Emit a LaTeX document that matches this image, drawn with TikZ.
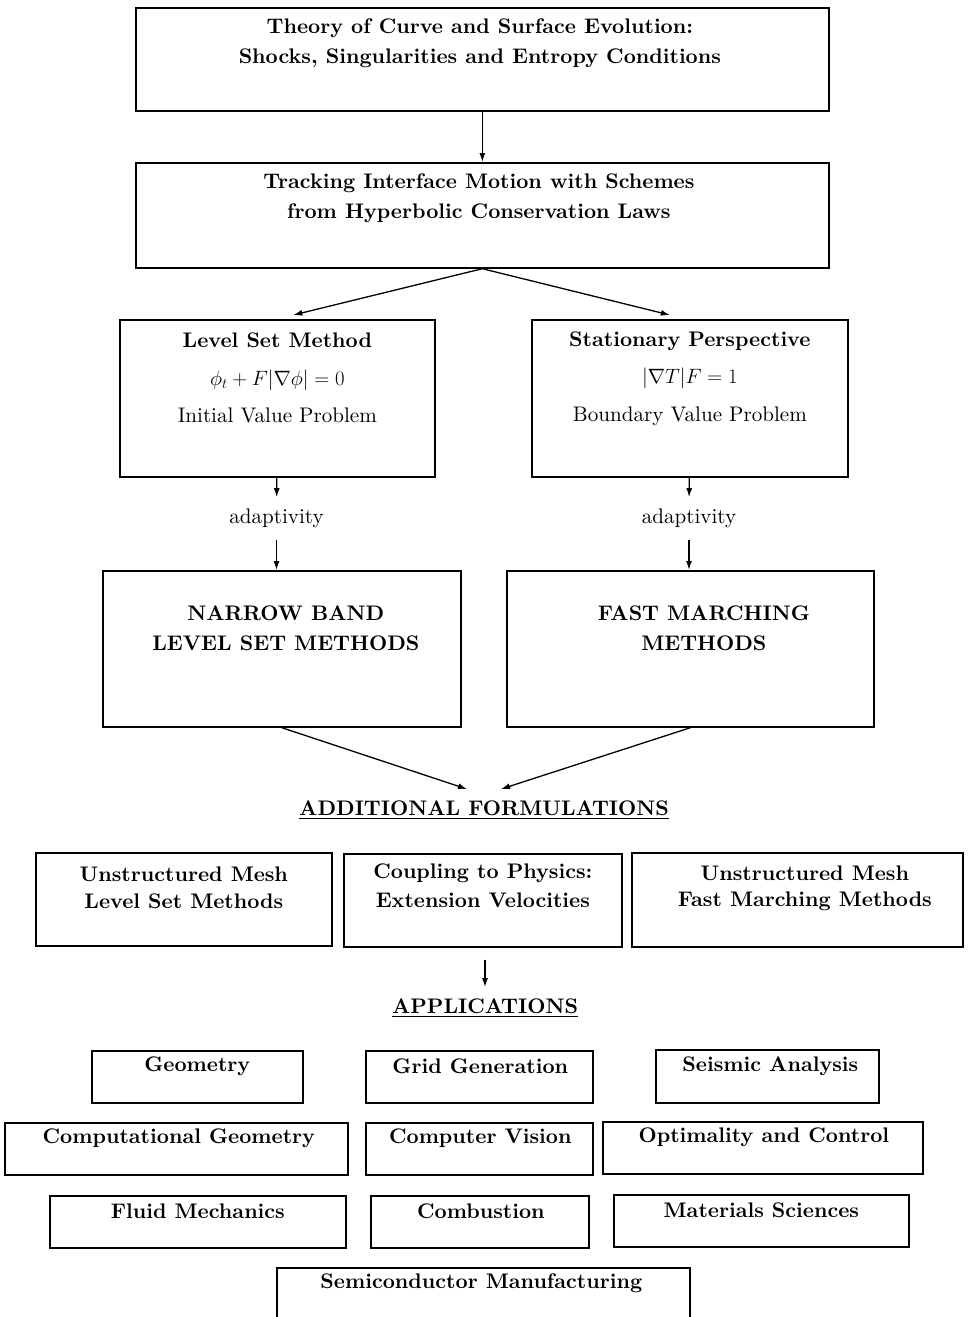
\documentclass[tikz,border=0pt]{standalone}
\usepackage{amsmath}
\usepackage{fontspec}
\setmainfont{lmroman10-regular.otf}[BoldFont=lmroman10-bold.otf]
\usetikzlibrary{positioning,arrows.meta}
\tikzset{
  panel/.style={draw, line width=1.7pt, inner sep=0pt, anchor=north west},
  boxtext/.style={font=\bfseries, align=center, inner sep=0pt},
  normaltext/.style={align=center, inner sep=0pt},
  gaptext/.style={inner xsep=0pt, inner ysep=11.5pt, anchor=base},
  flow/.style={line width=1.3pt, -{Latex[length=9pt,width=6pt]}},
}

\begin{document}
\fontsize{21.1}{30}\selectfont
\begin{tikzpicture}[x=1pt,y=-1pt]
\useasboundingbox (0,0) rectangle (967,1317);
\node[panel, minimum width=693pt, minimum height=103pt] (theory) at (135,7) {};
\node[boxtext, below=12pt of theory.north, xshift=-2.5pt] (theorytxt) {Theory of Curve and Surface Evolution:\\ Shocks, Singularities and Entropy Conditions};
\node[panel, minimum width=693pt, minimum height=105pt] (tracking) at (135,162) {};
\node[boxtext, below=12pt of tracking.north, xshift=-3.5pt] (trackingtxt) {Tracking Interface Motion with Schemes\\ from Hyperbolic Conservation Laws};
\node[panel, minimum width=315pt, minimum height=157pt] (lsm) at (119,319) {};
\node[normaltext, below=14pt of lsm.north] (lsmtxt) {\textbf{Level Set Method}\\[7.5pt] $\phi_t + F|\nabla\phi| = 0$\\[7.5pt] Initial Value Problem};
\node[panel, minimum width=316pt, minimum height=157pt] (stat) at (531,319) {};
\node[normaltext, below=12.5pt of stat.north] (stattxt) {\textbf{Stationary Perspective}\\[7.5pt] $|\nabla T|F = 1$\\[7.5pt] Boundary Value Problem};
\node[gaptext] (adaptL) at (276.5,523.5) {adaptivity};
\node[gaptext] (adaptR) at (689,523.5) {adaptivity};
\node[panel, minimum width=358pt, minimum height=156pt] (narrow) at (102,570) {};
\node[boxtext, below=36pt of narrow.north, xshift=4pt] (narrowtxt) {NARROW BAND\\ LEVEL SET METHODS};
\node[panel, minimum width=367pt, minimum height=156pt] (fast) at (506,570) {};
\node[boxtext, below=36pt of fast.north, xshift=13.5pt] (fasttxt) {FAST MARCHING\\ METHODS};
\node[boxtext, inner ysep=11pt, anchor=base] (addf) at (484,815) {\underline{ADDITIONAL FORMULATIONS}};
%formulations
\node[panel, minimum width=296pt, minimum height=93pt] (meshls) at (35,852) {};
\node[boxtext, below=15pt of meshls.north] (meshlstxt) {Unstructured Mesh\\[-3pt] Level Set Methods};
\node[panel, minimum width=278pt, minimum height=93pt] (coupling) at (343,853) {};
\node[boxtext, below=11pt of coupling.north] (couplingtxt) {Coupling to Physics:\\[-1pt] Extension Velocities};
\node[panel, minimum width=331pt, minimum height=94pt] (meshfm) at (631,852) {};
\node[boxtext, below=14pt of meshfm.north, xshift=7.5pt] (meshfmtxt) {Unstructured Mesh\\[-4pt] Fast Marching Methods};
\node[boxtext, inner ysep=11pt, anchor=base] (apps) at (485,1013) {\underline{APPLICATIONS}};
%applications
\node[panel, minimum width=211pt, minimum height=52pt] (geom) at (91,1050) {};
\node[boxtext, below=7pt of geom.north] (geomtxt) {Geometry};
\node[panel, minimum width=227pt, minimum height=52pt] (grid) at (365,1050) {};
\node[boxtext, below=9pt of grid.north, xshift=1pt] (gridtxt) {Grid Generation};
\node[panel, minimum width=223pt, minimum height=53pt] (seismic) at (655,1049) {};
\node[boxtext, below=7.5pt of seismic.north, xshift=3pt] (seismictxt) {Seismic Analysis};
\node[panel, minimum width=343pt, minimum height=52pt] (compgeom) at (4,1122) {};
\node[boxtext, below=7pt of compgeom.north, xshift=2.5pt] (compgeomtxt) {Computational Geometry};
\node[panel, minimum width=227pt, minimum height=52pt] (vision) at (365,1122) {};
\node[boxtext, below=7pt of vision.north, xshift=1pt] (visiontxt) {Computer Vision};
\node[panel, minimum width=320pt, minimum height=52pt] (control) at (602,1121) {};
\node[boxtext, below=7pt of control.north, xshift=1pt] (controltxt) {Optimality and Control};
\node[panel, minimum width=296pt, minimum height=52pt] (fluid) at (49,1195) {};
\node[boxtext, below=9pt of fluid.north] (fluidtxt) {Fluid Mechanics};
\node[panel, minimum width=218pt, minimum height=52pt] (combustion) at (370,1195) {};
\node[boxtext, below=9pt of combustion.north, xshift=1pt] (combustiontxt) {Combustion};
\node[panel, minimum width=295pt, minimum height=52pt] (materials) at (613,1194) {};
\node[boxtext, below=9pt of materials.north] (materialstxt) {Materials Sciences};
\node[panel, draw=none, minimum width=411pt, minimum height=49pt] (semi) at (277,1268) {};
\draw[line width=1.7pt] (semi.south west) |- (semi.north east) -- (semi.south east);
\node[boxtext, below=6pt of semi.north, xshift=-2pt] (semitxt) {Semiconductor Manufacturing};
%arrows
\draw[flow] (theory) -- (tracking);
\draw[flow] (tracking.south) -- ([xshift=16pt,yshift=4pt]lsm.north);
\draw[flow] (tracking.south) -- ([xshift=-20pt,yshift=4pt]stat.north);
\draw[flow] (lsm) -- (adaptL);
\draw[flow] (adaptL) -- (narrow.north -| adaptL);
\draw[flow] (stat) -- (adaptR);
\draw[flow] (adaptR) -- (fast.north -| adaptR);
\draw[flow] (narrow.south) -- ([xshift=-17pt]addf.north);
\draw[flow] (fast.south) -- ([xshift=17pt]addf.north);
\draw[flow] ([yshift=-12pt]coupling.south -| apps.north) -- (apps.north);
\end{tikzpicture}
\end{document}
